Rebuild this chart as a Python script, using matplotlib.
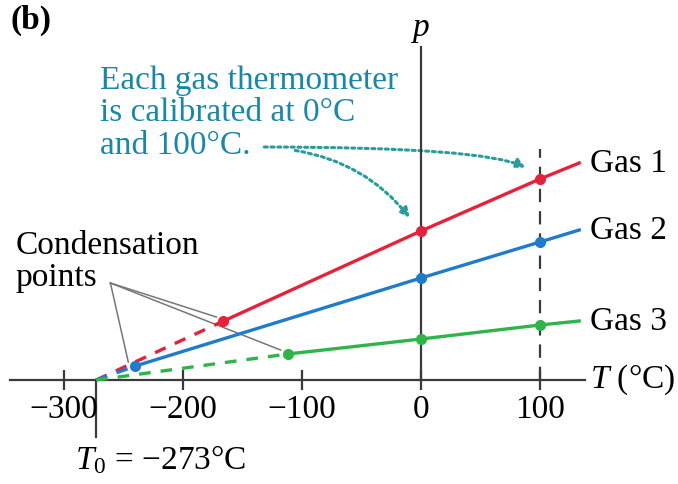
import matplotlib
matplotlib.use("Agg")
import matplotlib.pyplot as plt
from matplotlib.patches import FancyArrowPatch

plt.rcParams['font.family'] = ['Liberation Serif', 'DejaVu Serif']
plt.rcParams['mathtext.fontset'] = 'custom'
plt.rcParams['mathtext.rm'] = 'Liberation Serif'
plt.rcParams['mathtext.it'] = 'Liberation Serif:italic'

# data (p in arbitrary units)
T0 = -273
T_pts = [0, 100]
T_end = 133
gas_names = ["Gas 1", "Gas 2", "Gas 3"]
gas_colors = ["#e8213b", "#1f7ccc", "#2fb44a"]
p_at_0 = [149, 102, 41]
p_at_100 = [201, 138, 55]
p_at_end = [217, 150, 59]
cond_T = [-166, -240, -112]
cond_p = [59, 14, 26]
xticks = [-300, -200, -100, 0, 100]

fig = plt.figure(figsize=(6.78, 4.85), dpi=100)
ax = fig.add_axes([0, 0, 1, 1])
ax.set_xlim(-353.8, 216)
ax.set_ylim(-104, 381)
ax.patch.set_alpha(0)

# axes through the origin
for s in ['top', 'right']:
    ax.spines[s].set_visible(False)
ax.spines['left'].set_position(('data', 0))
ax.spines['bottom'].set_position(('data', 0))
ax.spines['left'].set_bounds(0, 333)
ax.spines['bottom'].set_bounds(-345, 138)
for s in ['left', 'bottom']:
    ax.spines[s].set_color('#3a3a3a')
    ax.spines[s].set_linewidth(1.6)
ax.set_yticks([])
ax.set_xticks(xticks)
ax.tick_params(axis='x', direction='inout', length=14, width=1.6, color='#3a3a3a',
               labelsize=24, pad=3)

# T = 100 reference line
ax.plot([100, 100], [0, 231], color='#3a3a3a', lw=1.6, ls=(0, (6, 4)), zorder=1)
# T0 marker line
ax.plot([T0, T0], [0, -57], color='#3a3a3a', lw=1.6, zorder=1)

for i in range(3):
    c = gas_colors[i]
    ax.plot([T0, cond_T[i]], [0, cond_p[i]], color=c, lw=2.4, ls=(0, (3.5, 3)), zorder=3)
    ax.plot([cond_T[i], 0, 100, T_end], [cond_p[i], p_at_0[i], p_at_100[i], p_at_end[i]],
            color=c, lw=2.4, zorder=3)
    ax.plot([cond_T[i], 0, 100], [cond_p[i], p_at_0[i], p_at_100[i]], 'o', color=c,
            ms=7, zorder=4)
    ax.text(142, p_at_end[i] + 0, gas_names[i], fontsize=24, va='center', ha='left')

# condensation point callouts
cx, cy = -261, 97
for i in range(3):
    ax.plot([cx, cond_T[i] - 6], [cy, cond_p[i] + 4], color='#777777', lw=1.1, zorder=2)
ax.text(-341, 119, "Condensation\npoints", fontsize=24, va='center', ha='left',
        linespacing=1.05)

# calibration note and dotted arrows
teal = '#1a86a8'
ax.text(-270, 268, "Each gas thermometer\nis calibrated at 0°C\nand 100°C.", fontsize=24,
        color=teal, va='center', ha='left', linespacing=1.08)
arr_kw = dict(arrowstyle='-|>', mutation_scale=14, color='#2a9c9c', lw=2.2, ls=(0, (1, 1.2)))
ax.add_patch(FancyArrowPatch((-134, 233), (90, 211),
                             connectionstyle="angle3,angleA=0,angleB=150", **arr_kw))
ax.add_patch(FancyArrowPatch((-108, 230), (-8, 160),
                             connectionstyle="arc3,rad=-0.2", **arr_kw))

# labels
ax.text(0, 351, "$p$", fontsize=24, ha='center', va='center')
ax.text(142, 1, "$T$ (°C)", fontsize=24, ha='left', va='center')
ax.text(-291, -79, "$T_0$ = −273°C", fontsize=24, ha='left', va='center')
ax.text(-345, 361, "(b)", fontsize=24, fontweight='bold', ha='left', va='center')

fig.savefig("out.png", dpi=100)
